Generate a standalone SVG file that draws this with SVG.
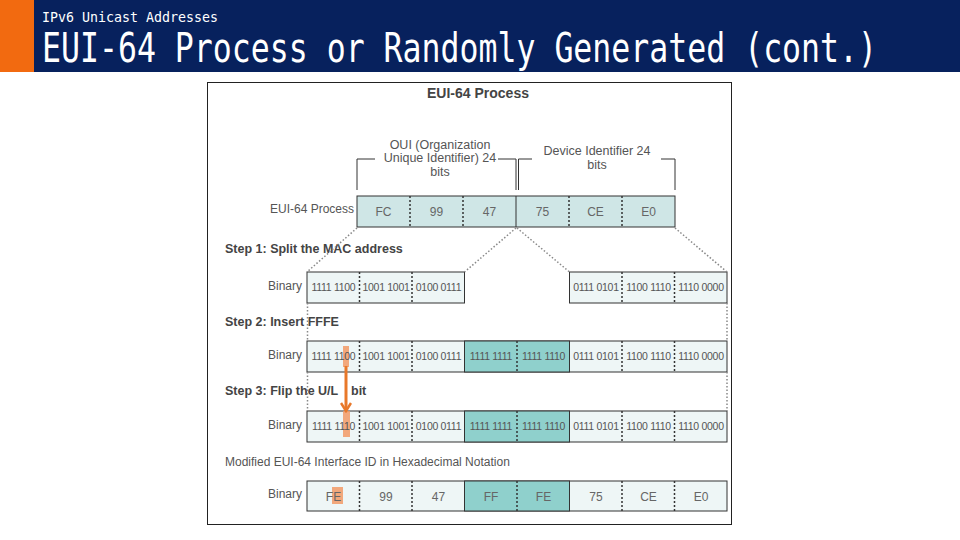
<svg xmlns="http://www.w3.org/2000/svg" width="960" height="540" viewBox="0 0 960 540">
<style>
.hdr{font-family:"DejaVu Sans Mono","Liberation Mono",monospace;fill:#fff}
.t{font-family:"Liberation Sans",Arial,sans-serif;fill:#555}
.lbl{font-size:12px}
.b{font-weight:bold;fill:#444}
.cell{font-size:12px;text-anchor:middle;fill:#666}
.bin{font-size:10.5px;text-anchor:middle;fill:#555;letter-spacing:-0.3px}
.lt{fill:#eef6f6;stroke:#333;stroke-width:1}
.top{fill:#cfe6e6;stroke:#333;stroke-width:1}
.dk{fill:#8fd0cc;stroke:#333;stroke-width:1}
.div{stroke:#333;stroke-width:1.5;stroke-dasharray:2 2}
.sol{stroke:#333;stroke-width:1}
.dot{stroke:#888;stroke-width:1.5;stroke-dasharray:1.5 2;fill:none}
.br{stroke:#333;stroke-width:1;fill:none}
.hl{fill:#f29a66;opacity:0.85}
</style>
<defs>
<marker id="chev" viewBox="0 0 12 12" refX="10" refY="6" markerWidth="12" markerHeight="12" markerUnits="userSpaceOnUse" orient="auto">
<path d="M2,1 L10,6 L2,11" fill="none" stroke="#e8782a" stroke-width="2.5"/>
</marker>
</defs>

<g id="header">
<rect x="0" y="0" width="960" height="72" fill="#07215d"/>
<rect x="0" y="0" width="34" height="72" fill="#f26a10"/>
<text class="hdr" transform="translate(42,21.5) scale(1,1.1)" font-size="13.3" textLength="176" lengthAdjust="spacingAndGlyphs">IPv6 Unicast Addresses</text>
<text class="hdr" transform="translate(42,62) scale(1,1.3)" font-size="31.5" textLength="835" lengthAdjust="spacingAndGlyphs">EUI-64 Process or Randomly Generated (cont.)</text>
</g>

<g id="frame">
<rect x="207.5" y="82.5" width="524" height="442" fill="#fff" stroke="#222" stroke-width="1"/>
<text class="t b" x="478" y="98" font-size="14" text-anchor="middle">EUI-64 Process</text>
</g>

<g id="oui-bracket">
<path class="br" d="M357,190 V159 H375 M498,159 H516 V190"/>
<text class="t" font-size="12.5" text-anchor="middle" fill="#666"><tspan x="440" y="149">OUI (Organization</tspan><tspan x="440" y="162">Unique Identifier) 24</tspan><tspan x="440" y="176">bits</tspan></text>
</g>
<g id="device-bracket">
<path class="br" d="M518.5,190 V159 H532 M661,159 H675 V190"/>
<text class="t" font-size="12.5" text-anchor="middle" fill="#666"><tspan x="597" y="155">Device Identifier 24</tspan><tspan x="597" y="169">bits</tspan></text>
</g>

<g id="eui-row">
<text class="t lbl" x="354" y="213" text-anchor="end" font-size="12.5">EUI-64 Process</text>
<rect class="top" x="357" y="196" width="318" height="31"/>
<line class="div" x1="410" y1="196" x2="410" y2="227"/>
<line class="div" x1="463" y1="196" x2="463" y2="227"/>
<line class="sol" x1="516" y1="196" x2="516" y2="227"/>
<line class="div" x1="569" y1="196" x2="569" y2="227"/>
<line class="div" x1="622" y1="196" x2="622" y2="227"/>
<text class="t cell" y="216"><tspan x="383.5">FC</tspan><tspan x="436.5">99</tspan><tspan x="489.5">47</tspan><tspan x="542.5">75</tspan><tspan x="595.5">CE</tspan><tspan x="648.5">E0</tspan></text>
</g>

<g id="step1">
<text class="t b" x="225" y="253" font-size="12.5">Step 1: Split the MAC address</text>
<text class="t lbl" x="302" y="290" text-anchor="end">Binary</text>
<rect class="lt" x="307" y="272" width="157.5" height="31"/>
<line class="div" x1="359.5" y1="272" x2="359.5" y2="303"/>
<line class="div" x1="412" y1="272" x2="412" y2="303"/>
<text class="t bin" y="291"><tspan x="333.5">1111 1100</tspan><tspan x="386">1001 1001</tspan><tspan x="438.5">0100 0111</tspan></text>
<rect class="lt" x="569.5" y="272" width="157.5" height="31"/>
<line class="div" x1="622" y1="272" x2="622" y2="303"/>
<line class="div" x1="674.5" y1="272" x2="674.5" y2="303"/>
<text class="t bin" y="291"><tspan x="596">0111 0101</tspan><tspan x="648.5">1100 1110</tspan><tspan x="701">1110 0000</tspan></text>
</g>

<g id="step2">
<text class="t b" x="225" y="326" font-size="12.5">Step 2: Insert FFFE</text>
<text class="t lbl" x="302" y="359" text-anchor="end">Binary</text>
<rect class="lt" x="307" y="341" width="420" height="31"/>
<rect class="dk" x="464.5" y="341" width="105" height="31"/>
<line class="div" x1="359.5" y1="341" x2="359.5" y2="372"/>
<line class="div" x1="412" y1="341" x2="412" y2="372"/>
<line class="div" x1="517" y1="341" x2="517" y2="372"/>
<line class="div" x1="622" y1="341" x2="622" y2="372"/>
<line class="div" x1="674.5" y1="341" x2="674.5" y2="372"/>
<rect class="hl" x="343" y="346" width="6" height="21"/>
<text class="t bin" y="360"><tspan x="333.5">1111 1100</tspan><tspan x="386">1001 1001</tspan><tspan x="438.5">0100 0111</tspan><tspan x="491">1111 1111</tspan><tspan x="543.5">1111 1110</tspan><tspan x="596">0111 0101</tspan><tspan x="648.5">1100 1110</tspan><tspan x="701">1110 0000</tspan></text>
</g>

<g id="step3">
<text class="t b" x="225" y="395" font-size="12.5">Step 3: Flip the U/L<tspan x="351">bit</tspan></text>
<text class="t lbl" x="302" y="429" text-anchor="end">Binary</text>
<rect class="lt" x="307" y="411" width="420" height="31"/>
<rect class="dk" x="464.5" y="411" width="105" height="31"/>
<line class="div" x1="359.5" y1="411" x2="359.5" y2="442"/>
<line class="div" x1="412" y1="411" x2="412" y2="442"/>
<line class="div" x1="517" y1="411" x2="517" y2="442"/>
<line class="div" x1="622" y1="411" x2="622" y2="442"/>
<line class="div" x1="674.5" y1="411" x2="674.5" y2="442"/>
<rect class="hl" x="343" y="411" width="7" height="26"/>
<text class="t bin" y="430"><tspan x="333.5">1111 1110</tspan><tspan x="386">1001 1001</tspan><tspan x="438.5">0100 0111</tspan><tspan x="491">1111 1111</tspan><tspan x="543.5">1111 1110</tspan><tspan x="596">0111 0101</tspan><tspan x="648.5">1100 1110</tspan><tspan x="701">1110 0000</tspan></text>
</g>

<g id="result">
<text class="t lbl" x="225" y="466" font-size="12.5">Modified EUI-64 Interface ID in Hexadecimal Notation</text>
<text class="t lbl" x="302" y="498" text-anchor="end">Binary</text>
<rect class="lt" x="307" y="481" width="420" height="30"/>
<rect class="dk" x="464.5" y="481" width="105" height="30"/>
<line class="div" x1="359.5" y1="481" x2="359.5" y2="511"/>
<line class="div" x1="412" y1="481" x2="412" y2="511"/>
<line class="div" x1="517" y1="481" x2="517" y2="511"/>
<line class="div" x1="622" y1="481" x2="622" y2="511"/>
<line class="div" x1="674.5" y1="481" x2="674.5" y2="511"/>
<rect class="hl" x="332" y="487" width="11" height="17"/>
<text class="t cell" y="501"><tspan x="333.5">FE</tspan><tspan x="386">99</tspan><tspan x="438.5">47</tspan><tspan x="491">FF</tspan><tspan x="543.5">FE</tspan><tspan x="596">75</tspan><tspan x="648.5">CE</tspan><tspan x="701">E0</tspan></text>
</g>

<g id="connectors">
<line class="dot" x1="357" y1="228" x2="307" y2="272"/>
<line class="dot" x1="516" y1="228" x2="464.5" y2="272"/>
<line class="dot" x1="517" y1="228" x2="569.5" y2="272"/>
<line class="dot" x1="675" y1="228" x2="727" y2="272"/>
<line class="dot" x1="307.5" y1="303" x2="307.5" y2="341"/>
<line class="dot" x1="307.5" y1="372" x2="307.5" y2="411"/>
<line class="dot" x1="727" y1="303" x2="727" y2="341"/>
<line class="dot" x1="727" y1="372" x2="727" y2="411"/>
<line x1="346" y1="366" x2="346" y2="411" stroke="#e8782a" stroke-width="3" marker-end="url(#chev)"/>
</g>
</svg>
